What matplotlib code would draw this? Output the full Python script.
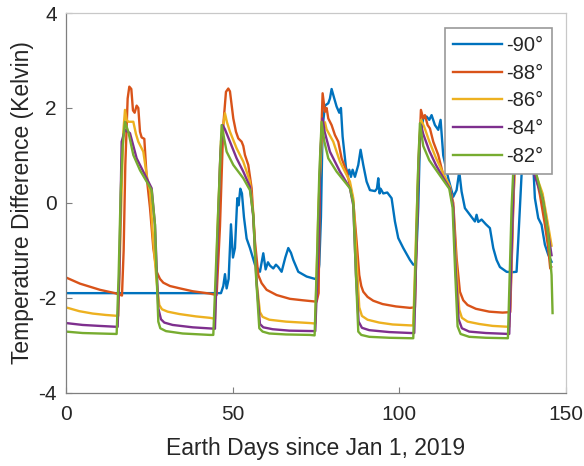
import matplotlib
matplotlib.use("Agg")
import matplotlib.pyplot as plt

plt.rcParams['font.family'] = ['Liberation Sans', 'DejaVu Sans']
plt.rcParams['axes.unicode_minus'] = False

# Temperature difference (K) versus Earth days since Jan 1, 2019, per latitude
labels = ['-90°', '-88°', '-86°', '-84°', '-82°']
colors = ['#0072BD', '#D95319', '#EDB120', '#7E2F8E', '#77AC30']

days_90 = [0, 46.5, 47.2, 47.7, 48.2, 48.8, 49.5, 50.1, 50.7, 51.4, 51.8, 52.3, 52.8,
           53.4, 54.2, 55.2, 56.7, 58.2, 59.2, 59.9, 60.6, 61.2, 62.2, 63.0, 63.7,
           64.7, 65.8, 66.7, 67.5, 68.2, 69.7, 72.2, 74.7, 75.6, 76.0, 76.5, 77.0,
           77.7, 78.7, 79.2, 79.7, 80.5, 81.2, 82.0, 82.5, 83.0, 84.0, 84.6, 85.0,
           85.5, 86.0, 86.7, 87.7, 88.4, 89.2, 90.2, 91.2, 92.7, 93.3, 93.7, 94.1,
           94.4, 95.2, 96.4, 97.7, 98.7, 99.7, 101.2, 103.2, 104.2, 104.9, 105.3,
           105.7, 106.2, 107.2, 108.2, 109.0, 109.7, 110.7, 111.7, 112.4, 113.2,
           114.7, 116.2, 117.2, 118.0, 118.7, 119.7, 121.2, 122.7, 123.2, 123.7,
           124.7, 126.0, 127.2, 128.2, 129.2, 130.2, 132.2, 133.7, 135.2, 135.7,
           136.2, 136.7, 137.3, 138.0, 138.8, 139.5, 140.2, 140.7, 141.7, 142.7,
           143.7, 144.7, 145.7]
temp_90 = [-1.9, -1.9, -1.75, -1.5, -1.8, -1.6, -0.45, -1.15, -0.95, 0.1, -0.05, 0.3, 0.2,
           -0.3, -0.75, -0.95, -1.3, -1.45, -1.06, -1.4, -1.25, -1.32, -1.38, -1.3, -1.35,
           -1.45, -1.15, -0.95, -1.05, -1.2, -1.45, -1.55, -1.6, -1.55, -1.3, -0.3, 1.6,
           2.05, 2.1, 2.2, 2.4, 2.2, 2.03, 1.9, 2.0, 1.4, 0.75, 0.6, 0.7,
           0.55, 0.7, 0.55, 0.8, 1.12, 0.8, 0.45, 0.27, 0.25, 0.3, 0.52, 0.2,
           0.3, 0.2, 0.22, 0.1, -0.39, -0.74, -0.95, -1.2, -1.3, -1.3, -0.8,
           -0.1, 1.3, 1.78, 1.82, 1.75, 1.85, 1.64, 1.54, 1.75, 1.0,
           0.52, 0.13, 0.27, 0.66, 0.24, -0.11, -0.25, -0.39, -0.25, -0.4,
           -0.35, -0.45, -0.53, -0.95, -1.2, -1.35, -1.45, -1.46, -1.45, -0.8,
           -0.1, 0.6, 1.2, 1.6, 1.3, 1.0, 0.8, 0.1, -0.32, -0.46,
           -0.88, -1.09, -1.24]

days_88 = [0, 4.2, 10.2, 14.7, 16.8, 17.3, 17.8, 18.5, 19.0, 19.6, 20.1, 20.6, 21.2, 21.7,
           22.2, 22.7, 23.5, 24.2, 25.2, 26.2, 27.2, 28.2, 29.2, 31.2, 34.2, 38, 43.2, 45.2,
           46.2, 47.2, 48.0, 48.7, 49.2, 50.2, 51.0, 51.7, 52.7, 53.2, 53.7, 54.7,
           55.7, 56.7, 57.7, 58.7, 60.2, 63.2, 67.2, 71, 75.2, 75.8, 76.2, 77.0,
           77.7, 78.2, 78.7, 79.7, 80.7, 81.7, 82.7, 84.2, 85.2, 86.2, 87.2, 88.0,
           88.6, 89.2, 90.5, 92.2, 95, 99, 103.2, 104.7, 105.7, 106.5, 107.2, 107.7,
           108.5, 109.2, 110.2, 111.7, 113.2, 115.2, 116.2, 117.2, 118.2, 119.2, 120.5,
           123, 127, 131, 133.3, 134.2, 135.0, 135.6, 136.5, 138, 140, 142.2, 143.7,
           144.7, 145.3, 145.6]
temp_88 = [-1.57, -1.7, -1.83, -1.9, -1.95, -1.0, 0.8, 2.2, 2.45, 2.4, 1.95, 1.9, 2.05, 2.0,
           1.5, 1.38, 1.35, 0.55, -0.1, -0.95, -1.45, -1.6, -1.68, -1.75, -1.8, -1.86, -1.91, -1.94,
           -0.5, 1.64, 2.34, 2.41, 2.35, 1.78, 1.5, 1.36, 1.29, 1.2, 1.01, 0.8,
           0.31, -0.81, -1.52, -1.69, -1.83, -1.94, -2.02, -2.05, -2.08, -1.9, 0.59, 2.31,
           1.92, 2.0, 1.78, 1.64, 1.43, 1.29, 0.94, 0.66, 0.38, 0.03, -0.81, -1.52,
           -1.75, -1.87, -1.98, -2.06, -2.13, -2.18, -2.21, -2.2, 0.59, 1.96, 1.78, 1.85,
           1.64, 1.57, 1.29, 1.01, 0.59, 0.31, 0.0, -1.16, -1.87, -2.05, -2.15,
           -2.23, -2.29, -2.31, -2.3, -0.11, 1.5, 1.9, 1.7, 1.4, 0.9, 0.17, -0.46,
           -0.95, -1.38, -1.35]

days_86 = [0, 4, 8, 12, 15.7, 16.6, 17.2, 17.7, 18.2, 18.7, 20.2, 21.0, 21.7, 23.2, 24.2,
           25.2, 26.2, 27.2, 28.0, 28.8, 30.5, 34, 39, 43.2, 44.7, 45.5, 46.5, 47.7, 48.3,
           49.2, 51.2, 53.2, 55.2, 56.2, 57.2, 58.2, 59.0, 61, 66, 73.2, 74.8, 75.8,
           76.8, 77.7, 78.2, 80.2, 82.2, 85.2, 86.2, 87.2, 88.0, 88.8, 90.5, 94, 98, 103.5,
           104.2, 105.2, 106.0, 106.6, 107.5, 109, 111, 113, 115.2, 116.2, 117.2,
           118.0, 118.8, 120.5, 124, 128, 133.0, 133.6, 134.2, 135.0, 135.6, 137, 139, 141,
           143, 144.5, 145.7]
temp_86 = [-2.2, -2.28, -2.33, -2.36, -2.38, 0.0, 1.5, 1.96, 1.75, 1.71, 1.71, 1.45, 1.29, 1.08, 0.59,
           0.24, -0.81, -1.66, -2.15, -2.24, -2.29, -2.34, -2.39, -2.42, -2.44, -0.5, 1.3, 1.89, 1.7,
           1.5, 1.15, 0.87, 0.45, -0.25, -1.66, -2.3, -2.4, -2.46, -2.5, -2.53, -2.54, 0.0,
           1.4, 1.7, 1.55, 1.29, 0.87, 0.45, 0.1, -1.2, -2.2, -2.38, -2.46, -2.52, -2.56, -2.58,
           -2.58, -0.3, 1.3, 1.75, 1.6, 1.3, 0.95, 0.65, 0.35, -0.1, -1.4,
           -2.25, -2.42, -2.5, -2.55, -2.59, -2.61, -1.5, 0.0, 1.3, 1.7, 1.45, 1.05, 0.6,
           0.2, -0.4, -0.9]

days_84 = [0, 5, 10, 15.5, 16.0, 16.7, 17.7, 19.2, 21.2, 24.2, 25.7, 26.7, 27.7, 28.5, 29.5, 32, 38,
           44.7, 45.5, 46.3, 47.0, 47.7, 49.2, 51.2, 53.2, 55.2, 56.2, 57.2,
           58.2, 59.2, 62, 67, 74.8, 75.7, 76.3, 77.0, 77.6, 79.2, 82.2, 85.2, 86.2, 87.0,
           87.8, 88.8, 91, 97, 103.5, 104.5, 105.3, 106.0, 106.5, 107.2, 109, 111, 113, 115.2,
           116.2, 117.0, 117.8, 118.8, 121, 126, 133.0, 133.8, 134.5, 135.3, 136.5, 139, 141,
           143, 144.5, 145.7]
temp_84 = [-2.53, -2.57, -2.59, -2.61, -1.5, 1.29, 1.54, 1.47, 0.94, 0.52, 0.31, -0.46, -2.22, -2.45, -2.52, -2.57, -2.62,
           -2.65, -0.8, 1.0, 1.64, 1.55, 1.29, 0.94, 0.66, 0.34, -0.3, -1.7,
           -2.55, -2.62, -2.66, -2.69, -2.7, -1.0, 1.0, 1.78, 1.5, 1.08, 0.66, 0.31, -0.05, -1.5,
           -2.5, -2.63, -2.68, -2.72, -2.74, -2.74, -0.5, 1.2, 1.65, 1.45, 1.1, 0.8, 0.55, 0.3,
           -0.1, -1.5, -2.45, -2.64, -2.71, -2.74, -2.76, -0.8, 0.8, 1.6, 1.35, 0.9, 0.5,
           0.1, -0.55, -1.1]

days_82 = [0, 5, 10, 15.2, 15.8, 16.4, 17.0, 17.7, 18.7, 20.2, 22.2, 24.2, 25.7, 26.7, 27.2,
           27.7, 28.3, 30, 35, 43.2, 44.2, 45.7, 46.7, 48.2, 50.2, 53.2, 55.2, 56.2, 57.0,
           58.0, 59.0, 61, 66, 73.2, 74.6, 75.3, 76.0, 76.7, 77.5, 78.7, 81.2, 85.2, 86.2,
           87.0, 87.7, 88.6, 91, 97, 103.6, 104.2, 105.0, 105.6, 106.2, 107.2, 109, 111,
           113, 115, 116.0, 116.8, 117.5, 118.4, 121, 126, 132.6, 133.7, 134.2, 135.0, 136.0,
           138, 141.2, 143.2, 144.7, 145.7, 146.0]
temp_82 = [-2.71, -2.74, -2.75, -2.76, -1.5, 0.2, 1.2, 1.71, 1.5, 1.01, 0.69, 0.45, 0.27, -0.46, -1.52,
           -2.5, -2.64, -2.7, -2.75, -2.78, -2.78, -0.1, 1.64, 1.08, 0.8, 0.52, 0.27, -0.25, -1.52,
           -2.64, -2.71, -2.75, -2.77, -2.78, -2.79, -1.2, 0.6, 1.71, 1.3, 0.94, 0.66, 0.31, 0.0,
           -1.52, -2.71, -2.78, -2.82, -2.84, -2.85, -2.85, -1.0, 0.6, 1.68, 1.2, 0.9, 0.7,
           0.5, 0.3, -0.1, -1.5, -2.6, -2.76, -2.82, -2.84, -2.85, -0.11, 0.66, 1.6, 1.3,
           1.0, 0.59, 0.03, -0.67, -1.52, -2.32]

series = [(days_90, temp_90), (days_88, temp_88), (days_86, temp_86),
          (days_84, temp_84), (days_82, temp_82)]

x_ticks = [0, 50, 100, 150]
y_ticks = [-4, -2, 0, 2, 4]

fig = plt.figure(figsize=(5.84, 4.66), dpi=100)
ax = fig.add_axes([0.113, 0.157, 0.856, 0.815])

for (d, t), lab, col in zip(series, labels, colors):
    ax.plot(d, t, color=col, lw=1.7, label=lab)

ax.set_xlim(0, 150)
ax.set_ylim(-4, 4)
ax.set_xticks(x_ticks)
ax.set_yticks(y_ticks)
ax.tick_params(direction='in', length=4, width=0.8, colors='#7f7f7f',
               labelcolor='#262626', labelsize=15)
ax.tick_params(axis='x', pad=9)
ax.tick_params(axis='y', pad=6.5)
for side in ['left', 'bottom']:
    ax.spines[side].set_color('#7f7f7f')
    ax.spines[side].set_linewidth(0.9)
for side in ['top', 'right']:
    ax.spines[side].set_color('#c8c8c8')
    ax.spines[side].set_linewidth(0.9)

ax.set_xlabel('Earth Days since Jan 1, 2019', fontsize=16.5, color='#262626', labelpad=9)
ax.set_ylabel('Temperature Difference (Kelvin)', fontsize=16.5, color='#262626', labelpad=3)

leg = ax.legend(loc='upper right', bbox_to_anchor=(0.972, 0.9605), borderaxespad=0,
                fontsize=14.5, frameon=True, fancybox=False, handlelength=2.4,
                handletextpad=0.25, labelspacing=0.43, borderpad=0.4)
leg.get_frame().set_edgecolor('#999999')
leg.get_frame().set_linewidth(1.2)
leg.get_frame().set_alpha(1)
for txt in leg.get_texts():
    txt.set_color('#262626')

fig.savefig('out.png', dpi=100)
